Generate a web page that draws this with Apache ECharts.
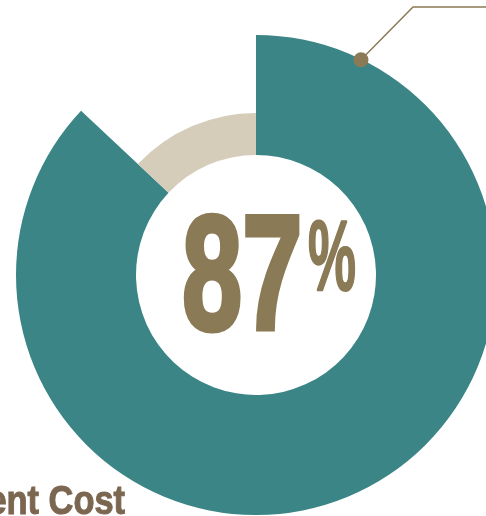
<!DOCTYPE html>
<html><head><meta charset="utf-8">
<script src="https://cdn.jsdelivr.net/npm/echarts@6/dist/echarts.min.js"></script>
<style>html,body{margin:0;padding:0;background:#fff}#c{width:486px;height:516px}</style>
</head><body><div id="c"></div>
<script>
const categories = ['Covered', 'Remaining'];
const values = [87, 13];
const centerLabel = '87';
const centerUnit = '%';
const titleText = 'Treatment Cost';

const teal = '#3b8587', beige = '#d5cdb9', gold = '#8a7a56', brown = '#7b6650';
const cx = 256, cy = 275, rIn = 120, rOut = 240, rSmall = 162;

const chart = echarts.init(document.getElementById('c'));
const calloutAngle = 26 * Math.PI / 180;
const dx = cx + 239.5 * Math.sin(calloutAngle), dy = cy - 239.5 * Math.cos(calloutAngle);

chart.setOption({
  animation: false,
  series: [
    {
      type: 'pie', center: [cx, cy], radius: [rIn, rOut], startAngle: 90, clockwise: true,
      label: {show: false}, labelLine: {show: false}, silent: true,
      data: [
        {name: categories[0], value: values[0], itemStyle: {color: teal}},
        {name: categories[1], value: values[1], itemStyle: {color: 'rgba(0,0,0,0)'}}
      ]
    },
    {
      type: 'pie', center: [cx, cy], radius: [rIn, rSmall], startAngle: 90, clockwise: true,
      label: {show: false}, labelLine: {show: false}, silent: true,
      data: [
        {name: categories[0], value: values[0], itemStyle: {color: 'rgba(0,0,0,0)'}},
        {name: categories[1], value: values[1], itemStyle: {color: beige}}
      ]
    }
  ],
  graphic: [
    {type: 'polyline', z: 10, shape: {points: [[dx, dy], [413, 7], [486, 7]]}, style: {stroke: gold, lineWidth: 1.5, fill: null}},
    {type: 'circle', z: 11, shape: {cx: dx, cy: dy, r: 7.5}, style: {fill: gold}},
    {type: 'text', x: 182, y: 284, scaleX: 0.66, scaleY: 1.0,
      style: {text: centerLabel, font: 'bold 164px "Liberation Sans"', fill: gold, stroke: gold, lineWidth: 5, align: 'left', verticalAlign: 'middle'}},
    {type: 'text', x: 308, y: 262, scaleX: 0.54, scaleY: 1,
      style: {text: centerUnit, font: 'bold 100px "Liberation Sans"', fill: gold, stroke: gold, lineWidth: 2, align: 'left', verticalAlign: 'middle'}},
    {type: 'text', x: 125, y: 503, scaleX: 0.86,
      style: {text: titleText, font: 'bold 40px "Liberation Sans"', fill: brown, stroke: brown, lineWidth: 1, align: 'right', verticalAlign: 'middle'}}
  ]
});
</script></body></html>
